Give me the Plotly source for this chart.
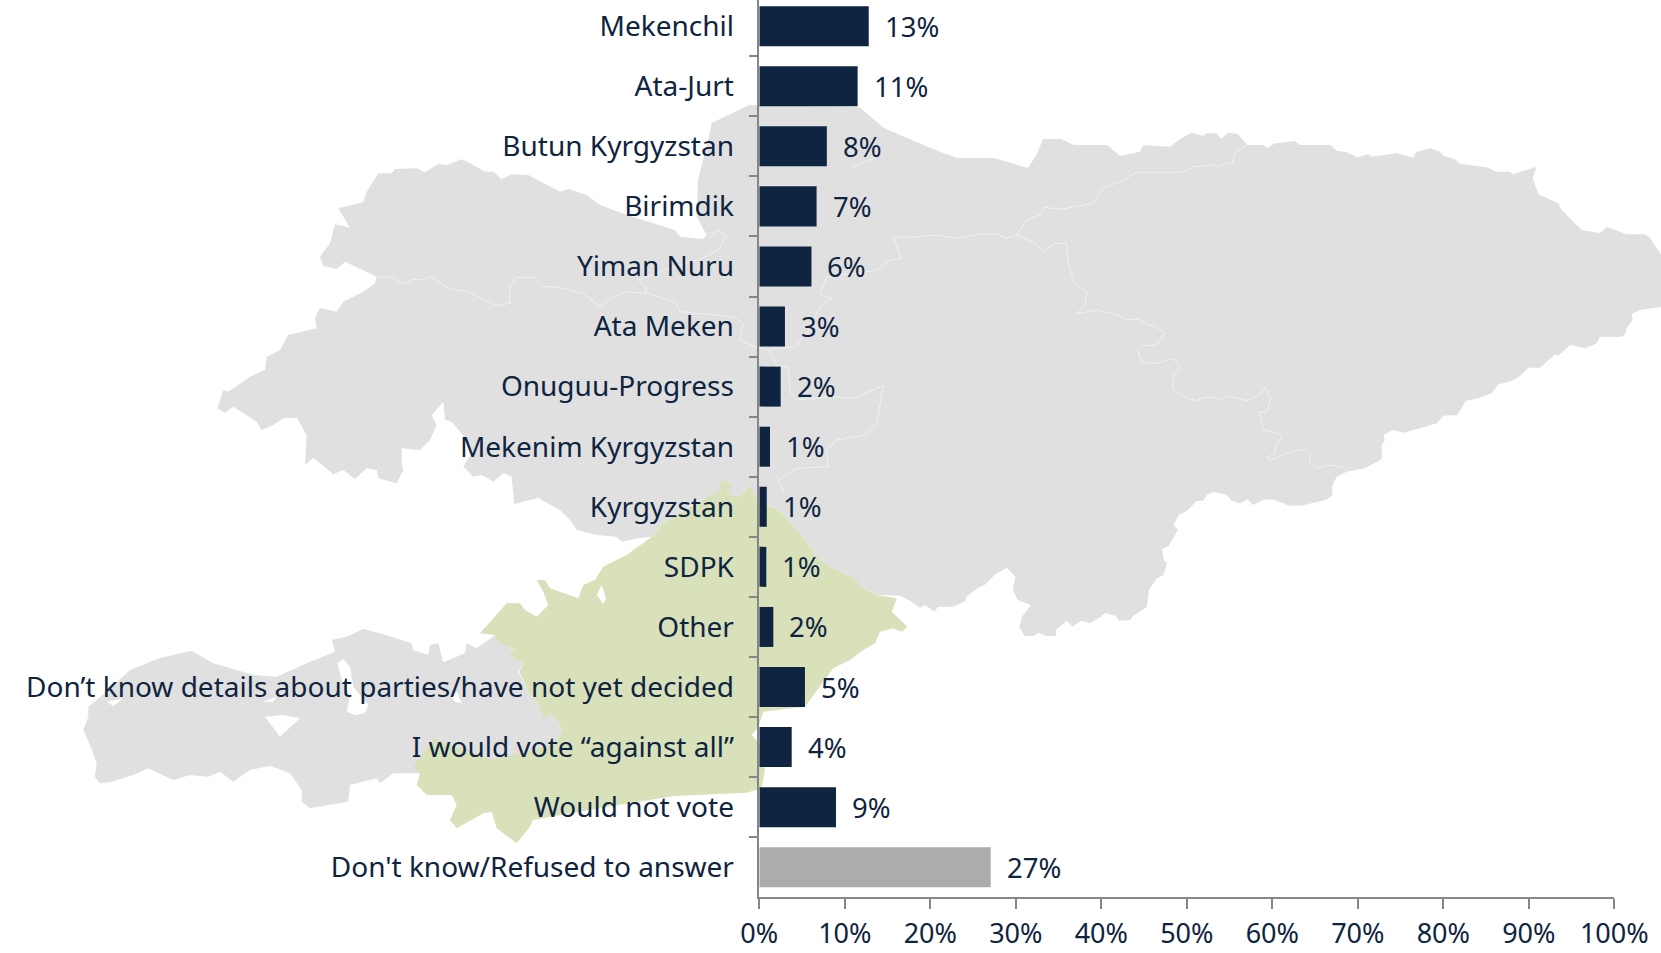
import plotly.graph_objects as go

categories = ["Mekenchil", "Ata-Jurt", "Butun Kyrgyzstan", "Birimdik", "Yiman Nuru", "Ata Meken",
              "Onuguu-Progress", "Mekenim Kyrgyzstan", "Kyrgyzstan", "SDPK", "Other",
              "Don’t know details about parties/have not yet decided",
              "I would vote “against all”", "Would not vote", "Don't know/Refused to answer"]
values = [12.8, 11.5, 7.9, 6.7, 6.1, 3.0, 2.5, 1.25, 0.87, 0.82, 1.64, 5.34, 3.79, 8.97, 27.07]
labels = ["13%", "11%", "8%", "7%", "6%", "3%", "2%", "1%", "1%", "1%", "2%", "5%", "4%", "9%", "27%"]
bar_colors = ["#0f2440"] * 14 + ["#acacae"]

W, H = 1661, 953
FONT = "Noto Sans"
INK = "#0f2440"
AXIS = "#868686"

# Background map outlines, in page pixels (decoration behind the chart)
map_main = [(376.7,276.7),(345,261.7),(336.7,269),(323.3,266),(320,256.7),(330,243.3),(335,224.3),(350,227.7),(338.3,208.3),(363.3,202.3),(366.7,191.7),(378.3,173.3),(391.7,173.3),(395,169),(416.7,168.3),(425,172.3),(438.3,164),(446.7,165),(461.7,159.3),(471.7,164),(485,171.7),(493.3,171.7),(501.7,179),(511.7,174.3),(528.3,175),(560,191.7),(568.3,189),(586.7,195),(600,205),(627,215),(675,230),(680,236.7),(703,239),(706.7,235),(696.7,216.7),(698,180),(708,140),(711.7,123),(749,105),(859,107),(884,128),(933,149),(957,158),(994,158),(1028,168),(1037,154),(1043,139),(1061,139),(1074,145),(1107,145),(1120,156),(1140,151.7),(1143.3,145),(1170,146.7),(1180,139),(1191.7,132.7),(1203,135.7),(1206.7,133.3),(1216.7,133.3),(1221,139),(1228.3,132.7),(1238.3,134.3),(1247.3,145),(1263.3,145),(1267.3,147.7),(1275,143.3),(1295,141),(1300,145),(1330,145),(1336.7,150.7),(1346.7,152.3),(1357.3,157.3),(1368.3,154.3),(1371.7,156.7),(1396.7,153.3),(1413.3,157.7),(1416.7,151.7),(1430,148.3),(1440,151.7),(1443.3,155.7),(1455,159.3),(1460.7,164),(1486.7,167.3),(1496.7,171.7),(1510,171.7),(1512.7,174.3),(1536.7,166.7),(1532.7,178.3),(1538.3,194),(1558.3,203.3),(1561.7,210),(1581.7,230),(1600,233.3),(1606.7,226.7),(1626.7,234.3),(1645,234.3),(1650,238),(1661,254.6),(1661,307),(1640,310),(1631.7,314),(1632.7,320),(1626.7,328),(1625,335),(1620,337),(1600,336.7),(1596.7,343.3),(1585,348.3),(1570,345),(1558.3,355.7),(1555,354.3),(1540,367.7),(1528.3,367.7),(1520,376),(1510,381.7),(1498.3,384.3),(1491.7,393.3),(1478.3,398.3),(1465.7,401),(1457.3,415),(1443.3,415.7),(1436.7,423.3),(1420,428.3),(1403.3,432.7),(1393.3,430),(1383.3,435),(1385,440),(1381.7,445),(1381.7,459.3),(1365,468.3),(1346.7,471.7),(1336.7,476.7),(1331.7,486.7),(1332.8,495),(1326,500),(1321,501),(1301,505.7),(1289.7,505.7),(1274.8,500),(1264.8,499.3),(1253,505),(1248,499.3),(1240,503.3),(1231.7,501),(1226.7,495),(1213.4,491.7),(1206.8,495),(1203.5,500.7),(1196.8,501),(1187,510.7),(1178.6,515),(1173.6,525),(1178,530),(1168.7,546),(1162,549),(1163.7,560),(1167,563),(1163.7,575),(1157,578),(1148.8,590),(1147,606.7),(1132,616.7),(1130.5,620),(1118.9,620.7),(1115.6,616),(1105.6,613.3),(1090.7,623.3),(1080.8,620.7),(1072.5,626.7),(1066.8,620.7),(1055.9,630),(1055.9,636),(1046,636),(1039.3,632.7),(1032.7,636),(1024.4,636),(1019.4,626.7),(1022,616.7),(1031,605),(1017.7,600),(1012.8,590),(1015.4,576.7),(1006.8,567.7),(994.5,575),(984.6,585),(978,588),(966.3,596.7),(964.7,601.7),(953,606.7),(938,606.7),(934.8,611.7),(924.9,605),(920,608),(911.6,601.7),(900,595.7),(876.7,595),(863,588),(856.7,580),(833,568),(820,560),(805,540),(791.7,523.3),(776.7,508),(758,503),(750,485),(738,497),(726,493),(700,500),(663,523),(651.7,536.7),(640,538),(621.7,541.7),(616.7,536.7),(596.7,535),(576.7,530),(570,520),(560,510),(538,498),(514,504),(513.3,493.3),(511.7,476.7),(503.3,473.3),(493.3,481.7),(481.7,475),(473.3,476.7),(463.3,466.7),(472,452),(467,440),(451.7,421.7),(445,420),(443.3,401.7),(431.7,415),(436.7,425),(430,440),(420,450),(401.7,448.3),(401.7,463.3),(403.3,470),(396.7,483.3),(378.3,478.3),(376.7,470),(366.7,468.3),(355,479),(343.3,470),(333.3,474.3),(313.3,457.7),(305,465),(306.7,435),(296.7,417.7),(283.3,418.3),(273.3,425),(261.7,430),(256.7,421.7),(233.3,406.7),(225,412.7),(217.3,408.3),(223.3,390),(228.3,391.7),(250,376.7),(265,370),(266.7,356.7),(280,350),(288.3,335),(316.7,328.3),(315,318.3),(320,307.7),(336.7,311.7),(343.3,301.7),(363.3,291.7),(375,283.3)]
map_west = [(83.3,730),(88.3,716.7),(88.3,706.7),(108.3,690),(130,670),(160,658),(191.7,650.7),(213.3,663.3),(236.7,670),(253,675),(276.7,676.7),(306.7,663.3),(335,651.7),(331.7,640),(346.7,636.7),(363.3,629),(380,633.3),(411.7,643.3),(413.3,650),(428.3,655),(430,645),(438.3,643.3),(443.3,662.3),(465,653.3),(466.7,643.3),(476.7,648.3),(495,635),(498.3,643.3),(515,648.3),(508.3,655),(523.3,663.3),(518.3,671.7),(528.3,691.7),(538.3,703.3),(543.3,718.3),(551.7,713.3),(563.3,730),(553.3,745),(520,765),(420,773.3),(393.3,773.3),(380,783.3),(376.7,778.3),(350,785),(348.3,801.7),(328.3,805),(310,808.3),(301.7,801.7),(301.7,790),(290,773.3),(270,765.7),(250,770),(233.3,781.7),(220,771.7),(208.3,776.7),(190,775),(173.3,780),(148.3,768.3),(133.3,775),(111.7,781.7),(100,783.3),(95,776.7),(96.7,763.3),(93.3,753.3)]
map_green = [(750,485),(758.3,503.3),(776.7,508.3),(791.7,523.3),(805,540),(820,560),(833.3,568.3),(856.7,580),(863.3,588.3),(876.7,595),(896.7,598.3),(891.7,611.7),(907.3,626.7),(901.7,631.7),(893.3,628.3),(880,631.7),(875,643.3),(863.3,650),(850,660),(833.3,668.3),(805,706.7),(763.3,711.7),(758.3,726.7),(751.7,735),(759.3,743.3),(765,770),(761.7,788.3),(746.7,792.7),(674,796),(612,806),(532.8,820),(530,826.7),(516.7,843.3),(496.7,828.3),(491.7,811.7),(483.3,813.3),(456.7,828.3),(450,820),(456.7,805),(451.7,795),(426.7,795),(416.7,785),(420,773.3),(413.3,766.7),(433.3,738.3),(493.3,760),(553.3,745),(563.3,730),(551.7,713.3),(543.3,718.3),(538.3,703.3),(528.3,691.7),(519.3,671.7),(523.3,663.3),(508.3,655),(515,648.3),(498.3,643.3),(495,635),(480,633.3),(506.7,603.3),(520,603.3),(525,610),(536.7,616.7),(548.3,605),(543.3,591.7),(536.7,580),(545,580),(550,588.3),(578.3,598.3),(583.3,585),(595,580),(603.3,566.7),(626.7,555),(651.7,536.7),(663,523),(701.7,500),(721.7,490),(718,483.3),(725,480),(731.7,485),(726.7,493.3),(738.3,496.7)]
map_holes = [
    [(265,716.7),(283.3,715),(300,718.3),(280,736.7)],
    [(337.3,663.3),(343.3,659.3),(350,666.7),(353.3,686.7),(368.3,705),(365,713.3),(355,715),(346.7,711.7),(350,696.7),(341.7,680)],
    [(451.7,696.7),(456.7,691.7),(461.7,703.3),(455,701.7)],
    [(106.7,701.7),(123.3,698.3),(113.3,706)],
    [(262.7,701.7),(276.7,696.7),(273.3,701.7)],
    [(596.7,595),(601.7,585),(606,598.3),(603.3,604)],
]
map_borders = [
    [(376.7,276.7),(391.7,277.3),(405,284),(413.3,279.3),(421.7,280),(430,276.7),(450,289),(468.3,291.7),(496.7,305.7),(510,303.3),(510,286.7),(516.7,277.3),(535,277.3),(543.3,286.7),(555,286.7),(583.3,293.3),(600,306.7),(613,296.7),(626.7,291.7),(646.7,293.3),(675,301.7),(680,311.7),(733,316.7),(743.3,323.3),(740,340),(756.7,347.3),(770,350)],
    [(709,238),(716.7,230),(726.7,235),(718.3,250),(703,258),(670,268),(638,280),(646,287),(646,293)],
    [(853,167),(870,160),(878,155)],
    [(893.3,237.3),(901.7,258.3),(890,260),(876.7,270),(866.7,271.7),(826.7,276.7),(820,295),(831.7,298.3),(820,306.7),(806.7,333),(795,347),(770,349),(776.6,366),(788.3,366.7),(790,391.7),(796.7,400),(830,396.7),(853.3,398.3),(883.3,385.7),(876.7,423.3),(865,435),(836.7,440),(826.7,450),(828.3,466.7),(796.7,468.3),(778.3,480),(785,493.3)],
    [(893.3,237.3),(920,236.7),(936.7,235),(958.3,238.3),(978.3,234.3),(998.3,234.3),(1006.7,238.3),(1016.7,235),(1026.7,220),(1040,215),(1045,207.3),(1060,209.3),(1093.3,203.3),(1103.3,188.3),(1120,181.7),(1136.7,172.3),(1181.7,172.3),(1193.3,166.7),(1213.3,165),(1218.3,166.7),(1226.7,162.7),(1231.7,164.3),(1235,153.3),(1246.7,145.7)],
    [(1016.7,235),(1035,243.3),(1043.3,251.7),(1055,243.3),(1066.7,243.3),(1068.3,263.3),(1075,283.3),(1086.7,291.7),(1085,305),(1076.7,313.3),(1098.3,310),(1120,315.7),(1126.7,320),(1138.3,319),(1146.7,324.3),(1155,326.7),(1165,332.3),(1156.7,345),(1140,345.7),(1137.3,350),(1141.7,362.7),(1158.3,363.3),(1170,359),(1176.7,360.7),(1180,367.3),(1172.7,376.7),(1173.3,390),(1186.7,398.3),(1196.7,400.7),(1203.3,397.3),(1215,397.3),(1218.3,400.7),(1228.3,395.7),(1246.7,400.7),(1260,395),(1265,387.7),(1270.7,398.3),(1266.7,411.7),(1259,412.3),(1263.3,430),(1276.7,432.7),(1281.7,437.3),(1276,445),(1275,453.3),(1267.7,457.3),(1269.3,460.7),(1293.3,451),(1306.7,449.3),(1310,453.3),(1310,463.3),(1316.7,468.3),(1330,465),(1341.7,466.7),(1348.3,471.7)],
]


def page_path(points, closed=True):
    body = " L".join(f"{x / W:.5f},{1 - y / H:.5f}" for x, y in points)
    return "M" + body + (" Z" if closed else "")


def map_shape(points, fill=None, line=None, width=0):
    return dict(type="path", xref="paper", yref="paper", layer="below",
                path=page_path(points, closed=fill is not None),
                fillcolor=fill if fill else "rgba(0,0,0,0)",
                line=dict(color=line if line else "rgba(0,0,0,0)", width=width))


shapes = [map_shape(map_main, fill="#e0e0e0"), map_shape(map_west, fill="#e0e0e0")]
shapes += [map_shape(b, line="#f1f1f1", width=1) for b in map_borders]
shapes += [map_shape(map_green, fill="#d8e1b9")]
shapes += [map_shape(h, fill="#ffffff") for h in map_holes]

fig = go.Figure(go.Bar(y=categories, x=values, orientation="h",
                       marker=dict(color=bar_colors, line=dict(width=0)),
                       hoverinfo="skip"))

annotations = [dict(x=v, y=c, xref="x", yref="y", text=t, showarrow=False, xanchor="left",
                    xshift=14, yshift=0, font=dict(family=FONT, size=27.5, color=INK))
               for c, v, t in zip(categories, values, labels)]

fig.update_layout(
    width=W, height=H, autosize=False,
    margin=dict(l=0, r=0, t=0, b=0),
    paper_bgcolor="white", plot_bgcolor="rgba(0,0,0,0)",
    showlegend=False, bargap=0.334,
    shapes=shapes, annotations=annotations,
    font=dict(family=FONT, size=28, color=INK),
    xaxis=dict(domain=[759.3 / W, 1614.3 / W], range=[0, 100], dtick=10, ticksuffix="%",
               automargin=False,
               showgrid=False, zeroline=False, showline=True, linecolor=AXIS, linewidth=1.5,
               ticks="outside", ticklen=10, tickwidth=1.5, tickcolor=AXIS,
               ticklabelstandoff=2, tickfont=dict(family=FONT, size=27, color=INK)),
    yaxis=dict(domain=[(H - 897.3) / H, 1], range=[14.5, -0.435], type="category",
               automargin=False,
               categoryorder="array", categoryarray=categories, tickson="boundaries",
               showgrid=False, zeroline=False, showline=True, linecolor=AXIS, linewidth=1.5,
               ticks="outside", ticklen=9, tickwidth=1.5, tickcolor=AXIS,
               ticklabelstandoff=18, tickfont=dict(family=FONT, size=28, color=INK)),
)

fig.write_html("out.html", config={"displayModeBar": False},
               post_script="document.body.style.margin='0';document.documentElement.style.overflow='hidden';")
